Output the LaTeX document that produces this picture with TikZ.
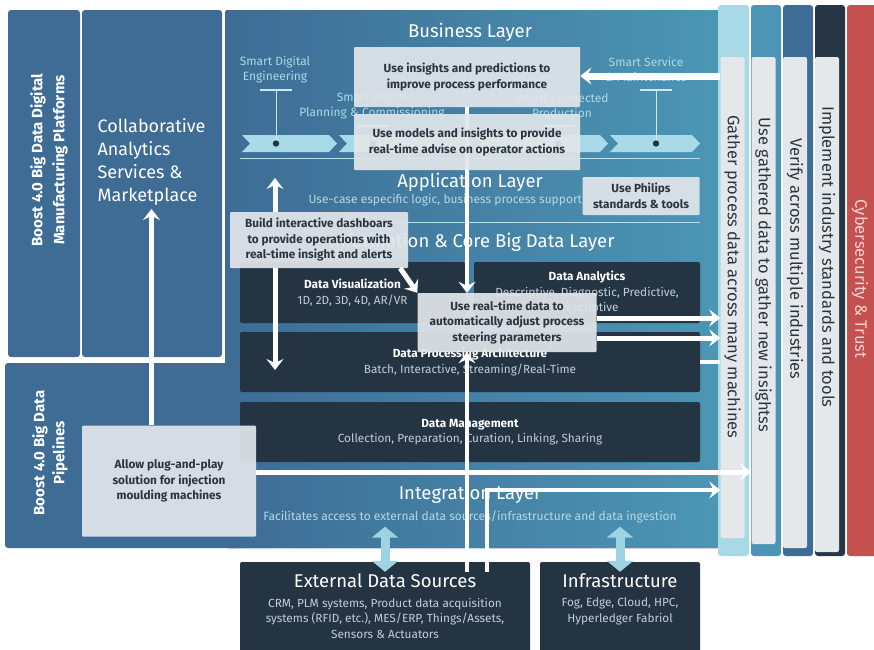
\documentclass[tikz,border=0pt]{standalone}
\usepackage{fontspec}
\setmainfont{Fira Sans}
\usetikzlibrary{arrows.meta, calc, positioning}
\definecolor{panelblue}{HTML}{3E6C95}
\definecolor{tealblue}{HTML}{4C96B5}
\definecolor{darkbox}{HTML}{243443}
\definecolor{notegray}{HTML}{E2E6EA}
\definecolor{notetext}{HTML}{2B3540}
\definecolor{chevron}{HTML}{A8DAE7}
\definecolor{skyarrow}{HTML}{9ED3E3}
\definecolor{subtext}{HTML}{B4D8E6}
\definecolor{boxtext}{HTML}{C3CDD6}
\definecolor{colA}{HTML}{A9D9E6}
\definecolor{colB}{HTML}{4C95B6}
\definecolor{colC}{HTML}{3D6D96}
\definecolor{colD}{HTML}{263645}
\definecolor{colE}{HTML}{C4514F}
\definecolor{stripgray}{HTML}{E4E8EB}
\definecolor{cyberpink}{HTML}{F3D3D1}
\newcommand{\boxhead}[1]{{\color{white}\bfseries #1}}
\tikzset{
  panel/.style={
    rounded corners=3pt
  },
  layer title/.style={
    text=white,
    font=\fontsize{18.5}{20}\selectfont
  },
  layer note/.style={
    text=subtext,
    font=\fontsize{12}{14}\selectfont
  },
  stage label/.style={
    text=chevron,
    align=center,
    font=\fontsize{12}{15}\selectfont
  },
  stage tick/.style={
    draw=chevron!60!white,
    line width=1.5pt
  },
  note box/.style={
    fill=notegray,
    fill opacity=0.92,
    text opacity=1,
    text=notetext,
    align=center,
    inner sep=0pt,
    rounded corners=1pt,
    font=\bfseries\fontsize{11.8}{15.5}\selectfont
  },
  data box/.style={
    fill=darkbox,
    rounded corners=2pt,
    inner sep=0pt,
    text=boxtext,
    align=center,
    font=\fontsize{11.8}{15.5}\selectfont
  },
  strip/.style={
    fill=stripgray,
    rounded corners=2pt,
    inner sep=0pt,
    minimum width=24pt
  },
  strip text/.style={
    rotate=-90,
    text=notetext,
    font=\fontsize{16.5}{18}\selectfont
  },
  flow/.style={
    draw=white,
    line width=5pt,
    -{Stealth[length=11pt, width=17pt, inset=4pt]}
  },
  thin flow/.style={
    flow,
    line width=3.5pt
  },
  link arrow/.style={
    draw=skyarrow,
    line width=9pt,
    {Triangle[length=11pt, width=26pt]}-{Triangle[length=11pt, width=26pt]}
  }
}
\begin{document}
\begin{tikzpicture}[x=1pt, y=-1pt]
    \useasboundingbox (0,0) rectangle (874,649);

    % 底板
    \fill[panel, panelblue] (8,10) rectangle (80,357);
    \fill[panel, panelblue] (82,10) rectangle (222,357);
    \fill[panel, left color=panelblue, right color=tealblue] (225,10) rectangle (722,548);
    \fill[panel, panelblue] (5,363) rectangle (240,548);

    % 右侧竖条
    \foreach \x/\w/\c in {718/31/colA, 751/30/colB, 783/30/colC, 815/30/colD, 847/30/colE} {
      \fill[panel, \c] (\x,5) rectangle (\x+\w,556);
    }
    \node[strip, minimum height=481pt] (gather) at (732.5,297.5) {};
    \node[strip, minimum height=487pt] (usegath) at (763.5,300.5) {};
    \node[strip, minimum height=491pt] (verify) at (795,302.5) {};
    \node[strip, minimum height=495pt] (implement) at (827,304.5) {};
    \node[strip text] (gather text) at (732.5,277) {Gather process data across many machines};
    \node[strip text] (usegath text) at (763.5,275) {Use gathered data to gather new insightss};
    \node[strip text] (verify text) at (795,259) {Verify across multiple industries};
    \node[strip text] (implement text) at (827,257) {Implement industry standards and tools};
    \node[strip text, text=cyberpink] (cyber text) at (860,279) {Cybersecurity \& Trust};

    % 左侧标题
    \node[rotate=90, text=white, align=center, font=\bfseries\fontsize{15}{22}\selectfont]
      (platforms) at (49,160) {Boost 4.0 Big Data Digital\\Manufacturing Platforms};
    \node[rotate=90, text=white, align=center, font=\bfseries\fontsize{15}{20}\selectfont]
      (pipelines) at (50,453) {Boost 4.0 Big Data\\Pipelines};
    \node[anchor=west, text=white, align=left, font=\fontsize{18}{23}\selectfont]
      (collab) at (94,162) {Collaborative\\Analytics\\Services \&\\Marketplace};

    % 层分隔线与价值链
    \foreach \y in {158,222} {
      \draw[chevron!80!white, line width=1pt] (240,\y) -- (700,\y);
    }
    \foreach \a/\b in {242/337, 339/472, 474/608, 610/700} {
      \fill[chevron] (\a,135) -- (\b-8,135) -- (\b,143.5) -- (\b-8,152) -- (\a,152) -- (\a+8,143.5) -- cycle;
    }
    \node[stage label] (engineering) at (275,70) {Smart Digital\\Engineering};
    \node[stage label] (planning) at (372,106) {Smart Digital\\Planning \& Commissioning};
    \node[stage label] (production) at (562,106) {Smart Connected\\Production};
    \node[stage label] (service) at (646,69) {Smart Service\\\& Maintenance};
    \foreach \n/\x/\y in {engineering/276/90, planning/373/126, production/558/126, service/656/90} {
      \coordinate (\n tick) at (\x,\y);
      \coordinate (\n dot) at (\x,143.5);
      \draw[stage tick] ([xshift=-16pt]\n tick) -- ([xshift=16pt]\n tick);
      \draw[chevron!60!white, line width=1pt] (\n tick) -- (\n dot);
      \fill[darkbox] (\n dot) circle[radius=3.2pt];
    }

    % 层标题
    \node[layer title] (business) at (470,32) {Business Layer};
    \node[layer title] (application) at (470,182) {Application Layer};
    \node[layer note, anchor=west] (application note) at (305,200) {Use-case especific logic, business process support};
    \node[layer title] (information) at (472,242) {Information \& Core Big Data Layer};
    \node[layer title] (integration) at (470,494) {Integration Layer};
    \node[layer note] (integration note) at (470,517) {Facilitates access to external data sources/infrastructure and data ingestion};

    % 数据模块
    \node[data box, minimum width=225pt, minimum height=61pt] (viz) at (352.5,292.5)
      {\boxhead{Data Visualization}\\1D, 2D, 3D, 4D, AR/VR};
    \node[data box, minimum width=226pt, minimum height=61pt] (analytics) at (587,292.5)
      {\boxhead{Data Analytics}\\Descriptive, Diagnostic, Predictive,\\Prescriptive};
    \node[data box, minimum width=460pt, minimum height=60pt] (processing) at (470,362)
      {\boxhead{Data Processing Architecture}\\Batch, Interactive, Streaming/Real-Time};
    \node[data box, minimum width=460pt, minimum height=60pt] (management) at (470,432)
      {\boxhead{Data Management}\\Collection, Preparation, Curation, Linking, Sharing};
    \node[data box, minimum width=290pt, minimum height=100pt] (external) at (385,612) {};
    \node[data box, minimum width=160pt, minimum height=100pt] (infra) at (620,612) {};
    \node[layer title] (external title) at (385,581) {External Data Sources};
    \node[data box, fill=none, below=6pt of external title]
      (external note) {CRM, PLM systems, Product data acquisition\\systems (RFID, etc.), MES/ERP, Things/Assets,\\Sensors \& Actuators};
    \node[layer title] (infra title) at (620,581) {Infrastructure};
    \node[data box, fill=none, below=6pt of infra title]
      (infra note) {Fog, Edge, Cloud, HPC,\\Hyperledger Fabriol};

    % 连接线
    \node[note box, minimum width=226pt, minimum height=60pt] (insight) at (467,77)
      {Use insights and predictions to\\improve process performance};
    \node[note box, minimum width=179pt, minimum height=59pt] (realtime) at (507,322.5)
      {Use real-time data to\\automatically adjust process\\steering parameters};
    \coordinate (ext a) at (467,572);
    \coordinate (ext b) at (487,572);
    \coordinate (row integ) at (0,490);
    \coordinate (row plug) at (0,472);
    \coordinate (row service) at (0,76);
    \coordinate (row stub) at (0,362);
    \draw[thin flow] (insight.south) -- (insight.south |- realtime.north);
    \draw[thin flow] (ext a) -- (ext a |- realtime.south);
    \draw[thin flow] (ext b) |- (gather.west |- row integ);
    \foreach \y in {318,338} {
      \coordinate (row \y) at (0,\y);
      \draw[flow] (realtime.east |- row \y) -- (gather.west |- row \y);
    }
    \draw[white, line width=4pt] (processing.east |- row stub) -- (gather.west |- row stub);
    \draw[flow, line width=7pt] (gather.west |- row service) -- (insight.east |- row service);
    \draw[link arrow] (external.north |- integration note.south) -- ([yshift=-10pt]external.north);
    \draw[link arrow] (infra.north |- integration note.south) -- ([yshift=-10pt]infra.north);

    % 说明框
    \node[note box, minimum width=226pt, minimum height=56pt] (models) at (467,142)
      {Use models and insights to provide\\real-time advise on operator actions};
    \node[note box, minimum width=117pt, minimum height=38pt] (philips) at (641,196)
      {Use Philips\\standards \& tools};
    \node[note box, minimum width=178pt, minimum height=56pt] (dash) at (319,240)
      {Build interactive dashboars\\to provide operations with\\real-time insight and alerts};
    \node[note box, minimum width=174pt, minimum height=111pt] (plug) at (169,481)
      {Allow plug-and-play\\solution for injection\\moulding machines};
    \coordinate (dash top) at (275,178);
    \coordinate (dash bottom) at (275,370);
    \draw[flow] (dash.north -| dash top) -- (dash top);
    \draw[flow] (dash.south -| dash top) -- (dash bottom);
    \draw[flow] ([xshift=-8pt]dash.south east) -- (realtime.north west);
    \draw[flow] (collab.south |- plug.north) -- (collab.south);
    \draw[flow] (plug.east |- row plug) -- (usegath.west |- row plug);

\end{tikzpicture}
\end{document}
